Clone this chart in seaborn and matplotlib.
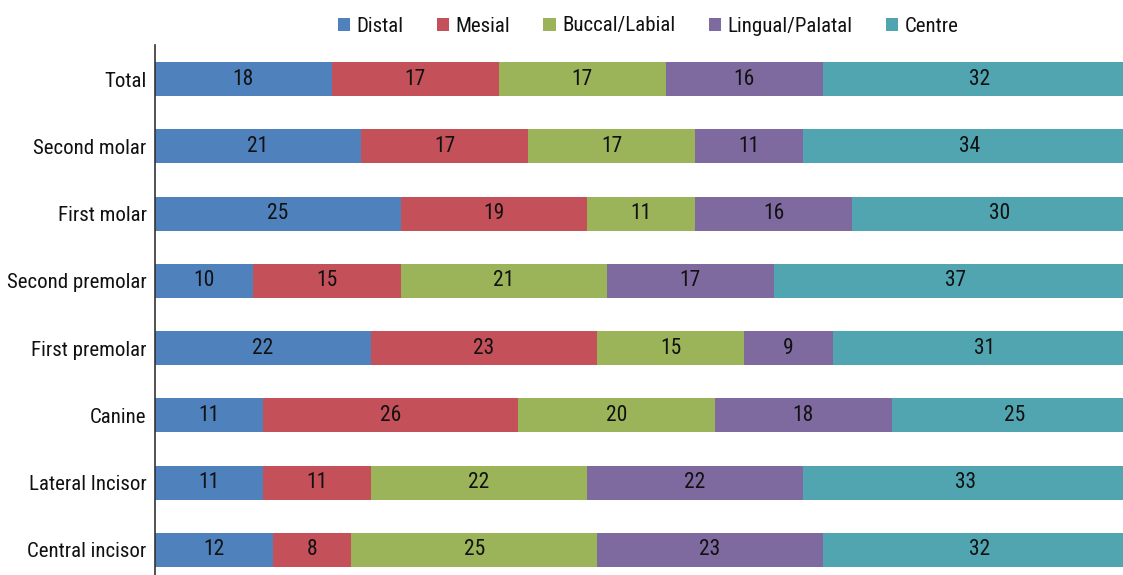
import matplotlib
matplotlib.use("Agg")
import matplotlib.pyplot as plt
from matplotlib.patches import Patch
import numpy as np
import pandas as pd
import seaborn as sns

categories = ["Total", "Second molar", "First molar", "Second premolar",
              "First premolar", "Canine", "Lateral Incisor", "Central incisor"]
series = ["Distal", "Mesial", "Buccal/Labial", "Lingual/Palatal", "Centre"]
distal = [18, 21, 25, 10, 22, 11, 11, 12]
mesial = [17, 17, 19, 15, 23, 26, 11, 8]
buccal = [17, 17, 11, 21, 15, 20, 22, 25]
lingual = [16, 11, 16, 17, 9, 18, 22, 23]
centre = [32, 34, 30, 37, 31, 25, 33, 32]
colors = ["#4F81BD", "#C4505A", "#9BB359", "#7E6A9F", "#50A5B1"]

sns.set_theme(style="white")
FAM = ["Liberation Sans Narrow", "Roboto Condensed", "DejaVu Sans Condensed", "DejaVu Sans"]
plt.rcParams["font.family"] = FAM

values = np.array([distal, mesial, buccal, lingual, centre], dtype=float)
cum = np.cumsum(values, axis=0)
starts = cum - values

W, H = 1123, 575
fig = plt.figure(figsize=(W / 100, H / 100), dpi=100)
x0, x1 = 155, 1137
ytop, ybot = 45.4, 583.6
ax = fig.add_axes([x0 / W, (H - ybot) / H, (x1 - x0) / W, (ybot - ytop) / H])

for k in range(len(series) - 1, -1, -1):
    df = pd.DataFrame({"category": categories, "value": cum[k]})
    sns.barplot(data=df, x="value", y="category", orient="h", color=colors[k],
                saturation=1, width=0.505, errorbar=None, linewidth=0, ax=ax)

for k in range(len(series)):
    for i in range(len(categories)):
        ax.text(starts[k, i] + values[k, i] / 2, i, f"{int(values[k, i])}",
                ha="center", va="center", fontsize=15.5, color="#111111")

ax.set_xlim(0, 100)
ax.set_ylim(len(categories) - 0.5, -0.5)
ax.set_xlabel("")
ax.set_ylabel("")
ax.set_xticks([])
for s in ["top", "right", "bottom"]:
    ax.spines[s].set_visible(False)
ax.spines["left"].set_color("#333333")
ax.spines["left"].set_linewidth(1.2)
ax.tick_params(axis="y", length=0, pad=6, labelsize=15, labelcolor="#111111")

handles = [Patch(facecolor=c, edgecolor="none", label=s) for c, s in zip(colors, series)]
fig.legend(handles=handles, loc="center", bbox_to_anchor=(648 / W, 1 - 26 / H),
           ncol=5, frameon=False, fontsize=15, handlelength=0.6, handleheight=0.6,
           handletextpad=0.3, columnspacing=1.6, labelcolor="#111111",
           borderpad=0, borderaxespad=0)

fig.savefig("out.png", dpi=100)
